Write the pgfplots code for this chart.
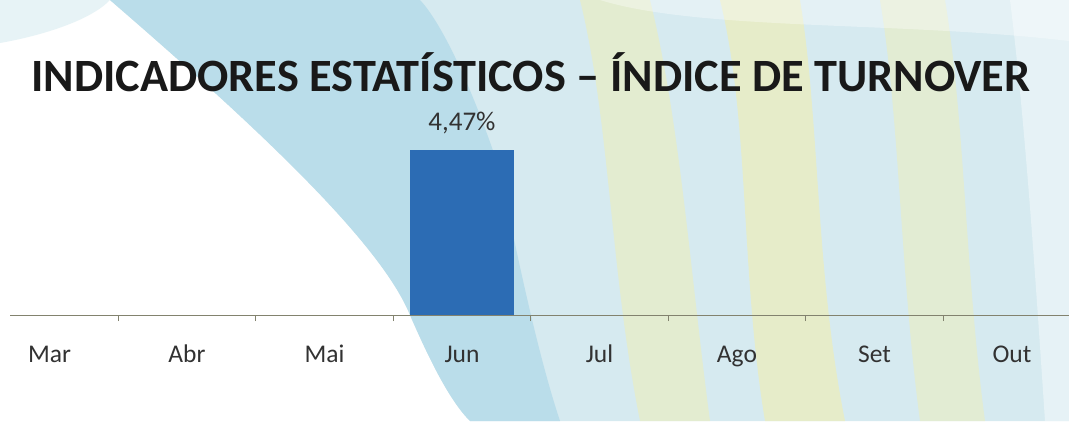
\documentclass[border=0pt]{standalone}
\usepackage{pgfplots}
\pgfplotsset{compat=1.18}
\usepackage{fontspec}
\setmainfont{Carlito}
\definecolor{barblue}{RGB}{44,108,180}
\definecolor{bgblue}{RGB}{214,234,240}
\definecolor{bandblue}{RGB}{186,221,234}
\definecolor{bgyellow}{RGB}{236,238,188}
\definecolor{axisgray}{RGB}{130,130,110}
\definecolor{labgray}{RGB}{50,50,50}
\begin{document}
\begin{tikzpicture}[x=1bp,y=1bp]
\useasboundingbox (0,0) rectangle (1069,421);
\fill[white] (0,0) rectangle (1069,421);
% pale region right of swoosh
\fill[bgblue] (110,421) .. controls (250,300) and (380,180) .. (410,106) .. controls (430,60) and (450,20) .. (470,0) -- (1069,0) -- (1069,421) -- cycle;
% stronger blue band along the swoosh
\fill[bandblue] (110,421) .. controls (250,300) and (380,180) .. (410,106) .. controls (430,60) and (450,20) .. (470,0) -- (560,0) .. controls (540,60) and (520,150) .. (500,250) .. controls (470,340) and (440,400) .. (420,421) -- cycle;
% light haze near top-left
\fill[bgblue!60] (0,421) -- (110,421) .. controls (90,400) and (40,385) .. (0,378) -- cycle;
% yellow streaks
\fill[bgyellow,opacity=0.6] (580,421) .. controls (610,300) and (610,150) .. (640,0) -- (710,0) .. controls (690,150) and (680,300) .. (650,421) -- cycle;
\fill[bgyellow,opacity=0.75] (720,421) .. controls (750,300) and (740,150) .. (765,0) -- (845,0) .. controls (815,150) and (820,300) .. (800,421) -- cycle;
\fill[bgyellow,opacity=0.55] (880,421) .. controls (900,300) and (900,150) .. (920,0) -- (985,0) .. controls (965,150) and (965,300) .. (945,421) -- cycle;
\fill[white,opacity=0.35] (600,421) -- (1069,421) -- (1069,380) .. controls (900,400) and (700,390) .. (600,421) -- cycle;
\fill[white,opacity=0.4] (1010,421) .. controls (1025,300) and (1035,150) .. (1045,0) -- (1069,0) -- (1069,421) -- cycle;
\begin{axis}[
  at={(10bp,106bp)}, anchor=south west,
  scale only axis, width=1059bp, height=203bp,
  xmin=-0.287, xmax=7.415, ymin=0, ymax=5.5,
  axis y line=none, axis x line=bottom,
  x axis line style={-, draw=axisgray, line width=0.8bp},
  xtick={0,1,2,3,4,5,6,7},
  xticklabels={Mar,Abr,Mai,Jun,Jul,Ago,Set,Out},
  major tick length=0pt,
  minor xtick={0.5,1.5,2.5,3.5,4.5,5.5,6.5},
  minor tick length=6bp, tick align=outside,
  minor tick style={draw=axisgray, line width=0.8bp},
  xticklabel style={font=\fontsize{25.5bp}{28bp}\selectfont, text=labgray, anchor=base, yshift=-47bp},
  clip=false,
]
\addplot[ybar, bar width=104bp, fill=barblue, draw=none,
  nodes near coords={4,47\%},
  nodes near coords style={font=\fontsize{27bp}{30bp}\selectfont, text=labgray, anchor=base, yshift=20bp}]
  coordinates {(3,4.47)};
\end{axis}
\node[font=\bfseries\fontsize{46.3bp}{50bp}\selectfont, text={rgb,255:red,25;green,25;blue,25}] at (531,348.5) {INDICADORES ESTATÍSTICOS – ÍNDICE DE TURNOVER};
\end{tikzpicture}
\end{document}
